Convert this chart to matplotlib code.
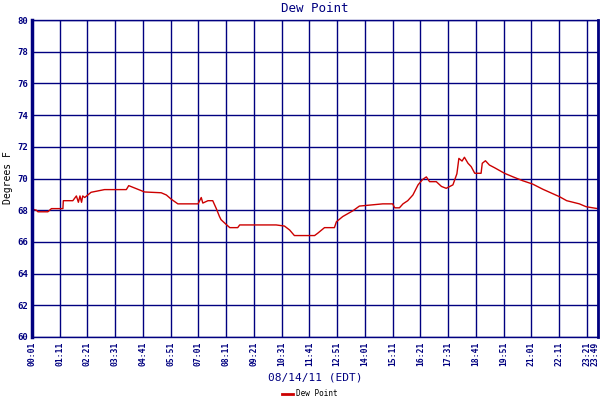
import matplotlib
matplotlib.use("Agg")
import matplotlib.pyplot as plt
from matplotlib.lines import Line2D

# minutes since midnight, 08/14/11
minutes = [1, 12, 16, 41, 50, 79, 80, 104, 113, 118, 122, 126, 129, 134, 150, 184,
           239, 245, 260, 285, 327, 340, 352, 369, 420, 428, 432, 445, 457, 466, 474,
           478, 491, 500, 520, 525, 617, 638, 651, 663, 714, 722, 739, 764, 769, 785,
           811, 827, 886, 911, 916, 928, 937, 949, 962, 975, 987, 996, 1004, 1021,
           1034, 1046, 1063, 1073, 1078, 1086, 1092, 1101, 1109, 1118, 1134, 1137,
           1145, 1155, 1168, 1193, 1214, 1239, 1264, 1290, 1332, 1350, 1382, 1399, 1428]
dew_point = [68.07, 68.0, 67.9, 67.9, 68.1, 68.1, 68.6, 68.6, 68.9, 68.5, 68.9, 68.5, 68.9,
             68.8, 69.13, 69.3, 69.3, 69.55, 69.4, 69.15, 69.1, 68.96, 68.7, 68.4, 68.4,
             68.8, 68.45, 68.6, 68.6, 68.1, 67.6, 67.4, 67.1, 66.9, 66.9, 67.07, 67.07,
             67.0, 66.75, 66.4, 66.4, 66.55, 66.9, 66.9, 67.27, 67.6, 67.97, 68.26, 68.4,
             68.4, 68.15, 68.15, 68.4, 68.6, 68.96, 69.6, 69.95, 70.1, 69.8, 69.8, 69.5,
             69.38, 69.6, 70.3, 71.27, 71.1, 71.34, 70.96, 70.75, 70.33, 70.33, 70.96,
             71.12, 70.85, 70.68, 70.33, 70.11, 69.86, 69.65, 69.32, 68.85, 68.6, 68.4,
             68.22, 68.1]

tick_minutes = [1 + 70 * k for k in range(21)] + [1429]
tick_labels = ["00:01", "01:11", "02:21", "03:31", "04:41", "05:51", "07:01", "08:11",
               "09:21", "10:31", "11:41", "12:51", "14:01", "15:11", "16:21", "17:31",
               "18:41", "19:51", "21:01", "22:11", "23:21", "23:49"]
y_ticks = list(range(60, 81, 2))

navy = "#000080"
red = "#cc0000"
mono = "DejaVu Sans Mono"
tick_font = dict(fontsize=5.8, family=mono, color=navy, fontweight="bold")

fig = plt.figure(figsize=(6, 4), dpi=100)
ax = fig.add_axes([32 / 600, 63 / 400, 566 / 600, 317 / 400])

ax.plot(minutes, dew_point, color=red, linewidth=1.0)

ax.set_xlim(1, 1429)
ax.set_ylim(60, 80)
ax.set_xticks(tick_minutes)
# last label is drawn separately, nudged left so it stays inside the picture
ax.set_xticklabels(tick_labels[:-1] + [""], rotation=90, **tick_font)
ax.annotate(tick_labels[-1], xy=(tick_minutes[-1], 0), xycoords=("data", "axes fraction"),
            xytext=(-2.2, -3), textcoords="offset points", rotation=90,
            ha="center", va="top", **tick_font)
ax.set_yticks(y_ticks)
ax.set_yticklabels([str(v) for v in y_ticks], fontsize=6.5, family=mono,
                   color=navy, fontweight="bold")
ax.tick_params(length=0, pad=3)
ax.grid(True, color=navy, linewidth=1)
ax.set_axisbelow(True)
for s in ax.spines.values():
    s.set_color(navy)
    s.set_linewidth(1)
ax.spines["left"].set_linewidth(2.5)
ax.spines["right"].set_linewidth(2)

fig.text(315 / 600, 1 - 8 / 400, "Dew Point", ha="center", va="center",
         color=navy, fontsize=9, family=mono)
fig.text(8 / 600, 1 - 178 / 400, "Degrees F", ha="center", va="center",
         rotation=90, fontsize=7, family=mono)
fig.text(315 / 600, 1 - 378 / 400, "08/14/11 (EDT)", ha="center", va="center",
         color=navy, fontsize=8, family=mono)

handle = Line2D([], [], color=red, linewidth=2)
fig.legend([handle], ["Dew Point"], loc="center", bbox_to_anchor=(310 / 600, 1 - 394 / 400),
           frameon=False, prop={"family": mono, "size": 5.5}, handlelength=1.5,
           handletextpad=0.4, borderpad=0)

fig.savefig("out.png", dpi=100)
